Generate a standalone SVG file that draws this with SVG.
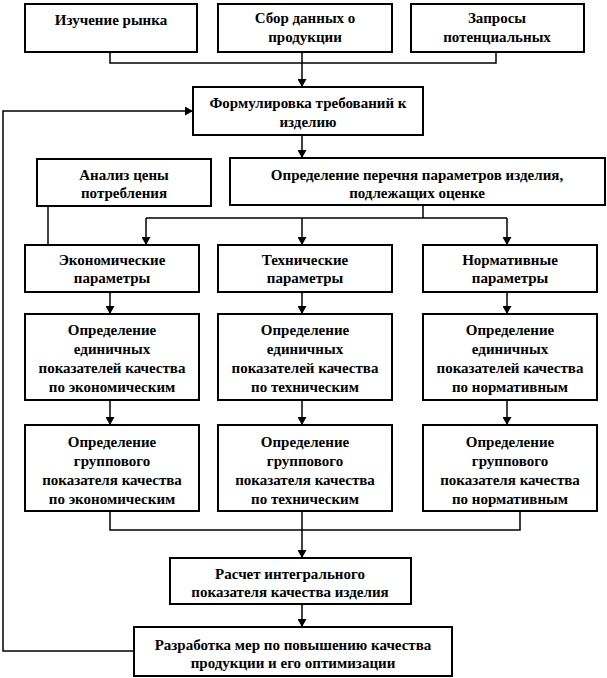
<svg xmlns="http://www.w3.org/2000/svg" width="607" height="678" viewBox="0 0 607 678">
<defs>
<marker id="ah" viewBox="0 0 8 9" refX="8" refY="4.5" markerWidth="8" markerHeight="9" markerUnits="userSpaceOnUse" orient="auto">
<path d="M0,0 L8,4.5 L0,9 Z" fill="#000"/>
</marker>
<style>
.b{fill:#fff;stroke:#000;stroke-width:2}
.t{font-weight:700;font-size:15px;text-anchor:middle;fill:#000}
.c{fill:none;stroke:#000;stroke-width:1.5}
.a{marker-end:url(#ah)}
</style>
</defs>
<rect width="607" height="678" fill="#fff"/>
<g id="connectors">
<polyline class="c" points="110,52 110,63 496,63 496,52"/>
<line class="c a" x1="302" y1="52" x2="302" y2="87"/>
<line class="c a" x1="302" y1="135" x2="302" y2="158"/>
<polyline class="c" points="423,205 423,218"/>
<polyline class="c" points="146,218 507,218"/>
<line class="c a" x1="146" y1="218" x2="146" y2="245"/>
<line class="c a" x1="302" y1="218" x2="302" y2="245"/>
<line class="c a" x1="507" y1="218" x2="507" y2="245"/>
<line class="c" x1="48" y1="206" x2="48" y2="245"/>
<line class="c a" x1="110" y1="292" x2="110" y2="314"/>
<line class="c a" x1="302" y1="292" x2="302" y2="314"/>
<line class="c a" x1="507" y1="292" x2="507" y2="314"/>
<line class="c a" x1="110" y1="400" x2="110" y2="425"/>
<line class="c a" x1="302" y1="400" x2="302" y2="425"/>
<line class="c a" x1="507" y1="400" x2="507" y2="425"/>
<polyline class="c" points="110,511 110,530 520,530 520,511"/>
<line class="c a" x1="302" y1="511" x2="302" y2="558"/>
<line class="c a" x1="302" y1="604" x2="302" y2="627"/>
<polyline class="c a" points="134,651 3,651 3,111 193,111"/>
</g>
<g font-family="Liberation Serif, Tinos, Times New Roman, Noto Serif, DejaVu Serif, serif">
<g id="n-market"><rect class="b" x="25" y="4" width="172" height="48"/><text class="t" x="111" y="25">Изучение рынка</text></g>
<g id="n-data"><rect class="b" x="218" y="4" width="174" height="48"/><text class="t" x="305" y="23">Сбор данных о</text><text class="t" x="305" y="42">продукции</text></g>
<g id="n-requests"><rect class="b" x="411" y="4" width="173" height="48"/><text class="t" x="497" y="23">Запросы</text><text class="t" x="497" y="42">потенциальных</text></g>
<g id="n-formulate"><rect class="b" x="193" y="87" width="230" height="48"/><text class="t" x="308" y="108">Формулировка требований к</text><text class="t" x="308" y="127">изделию</text></g>
<g id="n-price"><rect class="b" x="37" y="159" width="174" height="47"/><text class="t" x="124" y="180">Анализ цены</text><text class="t" x="124" y="198">потребления</text></g>
<g id="n-list"><rect class="b" x="230" y="158" width="375" height="47"/><text class="t" x="417" y="180">Определение перечня параметров изделия,</text><text class="t" x="417" y="198">подлежащих  оценке</text></g>
<g id="n-econ"><rect class="b" x="25" y="245" width="174" height="47"/><text class="t" x="112" y="265">Экономические</text><text class="t" x="112" y="283">параметры</text></g>
<g id="n-tech"><rect class="b" x="218" y="245" width="174" height="47"/><text class="t" x="305" y="265">Технические</text><text class="t" x="305" y="283">параметры</text></g>
<g id="n-norm"><rect class="b" x="423" y="245" width="174" height="47"/><text class="t" x="510" y="265">Нормативные</text><text class="t" x="510" y="283">параметры</text></g>
<g id="n-unit-econ"><rect class="b" x="25" y="314" width="174" height="86"/><text class="t" x="112" y="335">Определение</text><text class="t" x="112" y="354">единичных</text><text class="t" x="112" y="373">показателей качества</text><text class="t" x="112" y="392">по экономическим</text></g>
<g id="n-unit-tech"><rect class="b" x="218" y="314" width="174" height="86"/><text class="t" x="305" y="335">Определение</text><text class="t" x="305" y="354">единичных</text><text class="t" x="305" y="373">показателей качества</text><text class="t" x="305" y="392">по техническим</text></g>
<g id="n-unit-norm"><rect class="b" x="423" y="314" width="174" height="86"/><text class="t" x="510" y="335">Определение</text><text class="t" x="510" y="354">единичных</text><text class="t" x="510" y="373">показателей качества</text><text class="t" x="510" y="392">по нормативным</text></g>
<g id="n-grp-econ"><rect class="b" x="25" y="425" width="174" height="86"/><text class="t" x="112" y="447">Определение</text><text class="t" x="112" y="466">группового</text><text class="t" x="112" y="485">показателя качества</text><text class="t" x="112" y="504">по экономическим</text></g>
<g id="n-grp-tech"><rect class="b" x="218" y="425" width="174" height="86"/><text class="t" x="305" y="447">Определение</text><text class="t" x="305" y="466">группового</text><text class="t" x="305" y="485">показателя качества</text><text class="t" x="305" y="504">по техническим</text></g>
<g id="n-grp-norm"><rect class="b" x="423" y="425" width="174" height="86"/><text class="t" x="510" y="447">Определение</text><text class="t" x="510" y="466">группового</text><text class="t" x="510" y="485">показателя качества</text><text class="t" x="510" y="504">по нормативным</text></g>
<g id="n-integral"><rect class="b" x="170" y="558" width="241" height="46"/><text class="t" x="290" y="579">Расчет интегрального</text><text class="t" x="290" y="597">показателя качества изделия</text></g>
<g id="n-improve"><rect class="b" x="134" y="627" width="318" height="49"/><text class="t" x="293" y="650">Разработка мер по повышению качества</text><text class="t" x="293" y="668">продукции и его оптимизации</text></g>
</g>
</svg>
